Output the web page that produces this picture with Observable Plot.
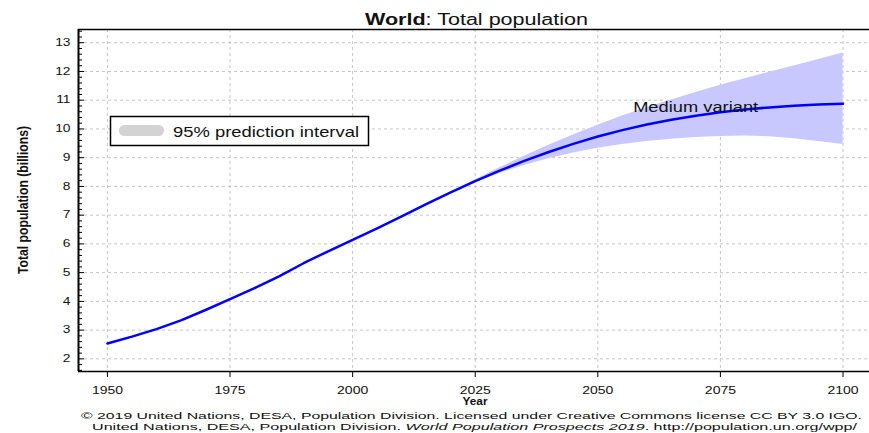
<!DOCTYPE html>
<html><head><meta charset="utf-8">
<script src="https://cdn.jsdelivr.net/npm/d3@7"></script>
<script src="https://cdn.jsdelivr.net/npm/@observablehq/plot@0.6"></script>
<style>
html,body{margin:0;padding:0;background:#fff;}
#chart{position:relative;width:869px;height:433px;overflow:hidden;}
</style></head><body><div id="chart"></div>
<script>
// ---- data (billions) ----
const years = [1950,1955,1960,1965,1970,1975,1980,1985,1990,1995,2000,2005,2010,2015,2020,2025,2030,2035,2040,2045,2050,2055,2060,2065,2070,2075,2080,2085,2090,2095,2100];
const medium = [2.536,2.773,3.035,3.340,3.700,4.079,4.458,4.871,5.327,5.744,6.143,6.542,6.957,7.380,7.795,8.184,8.548,8.888,9.199,9.482,9.735,9.958,10.152,10.318,10.459,10.577,10.674,10.750,10.810,10.852,10.875];
const piYears = [2020,2025,2030,2035,2040,2045,2050,2055,2060,2065,2070,2075,2080,2085,2090,2095,2100];
const piLower = [7.795,8.14,8.45,8.73,8.96,9.16,9.33,9.46,9.56,9.64,9.70,9.74,9.75,9.73,9.66,9.56,9.46];
const piUpper = [7.795,8.23,8.65,9.05,9.43,9.79,10.13,10.45,10.74,11.01,11.27,11.52,11.75,11.97,12.19,12.42,12.64];
const xTicks = [1950,1975,2000,2025,2050,2075,2100];
const yTicks = [2,3,4,5,6,7,8,9,10,11,12,13];
const yMinor = [1.6,1.8,2.2,2.4,2.6,2.8,3.2,3.4,3.6,3.8,4.2,4.4,4.6,4.8,5.2,5.4,5.6,5.8,6.2,6.4,6.6,6.8,7.2,7.4,7.6,7.8,8.2,8.4,8.6,8.8,9.2,9.4,9.6,9.8,10.2,10.4,10.6,10.8,11.2,11.4,11.6,11.8,12.2,12.4,12.6,12.8,13.2,13.4];
const titleBold = "World";
const titleRest = ": Total population";
const yLabel = "Total population (billions)";
const xLabel = "Year";
const legendLabel = "95% prediction interval";
const seriesLabel = "Medium variant";
const caption1 = "© 2019 United Nations, DESA, Population Division. Licensed under Creative Commons license CC BY 3.0 IGO.";
const caption2a = "United Nations, DESA, Population Division. ";
const caption2b = "World Population Prospects 2019";
const caption2c = ". http://population.un.org/wpp/";

const xDomain = [1944.1, 2105.4];
const yDomain = [1.56, 13.46];

const medData = years.map((y, i) => ({year: y, pop: medium[i]}));
const piData = piYears.map((y, i) => ({year: y, lo: piLower[i], hi: piUpper[i]}));

const FONT = "'Liberation Sans', Arial, sans-serif";
const gridStyle = {stroke: "#c6c6c6", strokeOpacity: 1, strokeWidth: 1, strokeDasharray: "3,3"};
const frameW = 869 - 78;

const plot = Plot.plot({
  width: 869, height: 433,
  marginTop: 29, marginBottom: 62, marginLeft: 78, marginRight: 0,
  style: {fontFamily: FONT, fontSize: "10px", color: "#111", background: "#fff", overflow: "visible"},
  x: {domain: xDomain, label: null},
  y: {domain: yDomain, label: null},
  marks: [
    Plot.gridX(xTicks, gridStyle),
    Plot.gridY(yTicks, gridStyle),
    Plot.areaY(piData, {x: "year", y1: "lo", y2: "hi", fill: "#c8c8ff", fillOpacity: 1}),
    Plot.line(medData, {x: "year", y: "pop", stroke: "#0000ff", strokeWidth: 2.5}),
    Plot.text([seriesLabel], {x: () => 2057.2, y: () => 10.73, text: d => d, textAnchor: "start", lineAnchor: "middle", fontSize: 14, fill: "#111"}),
    Plot.ruleY([yDomain[1]], {stroke: "#000", strokeWidth: 1.5}),
    Plot.ruleY([yDomain[0]], {stroke: "#000", strokeWidth: 1.5}),
    Plot.ruleX([xDomain[0]], {stroke: "#000", strokeWidth: 2}),
    Plot.axisX(xTicks, {tickSize: 6, tickPadding: 9, tickFormat: d => String(d), label: null, stroke: "#000", fill: "#111"}),
    Plot.axisY(yMinor, {anchor: "right", tickSize: 3, dx: -frameW, fill: "none", label: null, stroke: "#000"}),
    Plot.axisY(yTicks, {anchor: "right", tickSize: 5, dx: -frameW, fill: "none", label: null, stroke: "#000"}),
    Plot.axisY(yTicks, {tickSize: 0, tickPadding: 8, label: null, fill: "#111"})
  ]
});
document.getElementById("chart").appendChild(plot);

const svg = d3.select(plot);
function stretch(sel, factor) {
  sel.each(function() {
    const w = this.getComputedTextLength();
    d3.select(this).attr("textLength", w * factor).attr("lengthAdjust", "spacingAndGlyphs");
  });
}
stretch(svg.selectAll('g[aria-label="x-axis tick label"] text'), 1.4);
stretch(svg.selectAll('g[aria-label="y-axis tick label"] text'), 1.38);
svg.selectAll("text").filter(function() { return this.textContent === seriesLabel; })
  .attr("textLength", 125).attr("lengthAdjust", "spacingAndGlyphs");

const over = svg.append("g").attr("font-family", FONT).attr("fill", "#111").attr("text-anchor", "start");

// title
const t = over.append("text").attr("x", 365).attr("y", 24.7).attr("font-size", 16)
  .attr("textLength", 223).attr("lengthAdjust", "spacingAndGlyphs");
t.append("tspan").attr("font-weight", "bold").text(titleBold);
t.append("tspan").text(titleRest);

// y label (glyphs widened horizontally like the reference)
over.append("text").attr("transform", "translate(28,200) rotate(-90) scale(1,1.3)")
  .attr("text-anchor", "middle").attr("font-size", 11.5).attr("font-weight", "bold")
  .attr("textLength", 148).attr("lengthAdjust", "spacingAndGlyphs").text(yLabel);

// x label
over.append("text").attr("x", 475).attr("y", 405).attr("text-anchor", "middle")
  .attr("font-size", 10).attr("font-weight", "bold")
  .attr("textLength", 25).attr("lengthAdjust", "spacingAndGlyphs").text(xLabel);

// legend
over.append("rect").attr("x", 110.5).attr("y", 116.5).attr("width", 258).attr("height", 29)
  .attr("fill", "#fff").attr("stroke", "#000").attr("stroke-width", 1.5);
over.append("rect").attr("x", 119).attr("y", 125).attr("width", 45).attr("height", 11)
  .attr("rx", 5.5).attr("fill", "#d3d3d3");
over.append("text").attr("x", 173).attr("y", 136.7).attr("font-size", 15)
  .attr("textLength", 186).attr("lengthAdjust", "spacingAndGlyphs").text(legendLabel);

// captions
over.append("text").attr("x", 81).attr("y", 418.5).attr("font-size", 9.5)
  .attr("textLength", 781).attr("lengthAdjust", "spacingAndGlyphs").text(caption1);
const c2 = over.append("text").attr("x", 92).attr("y", 429.5).attr("font-size", 9.5)
  .attr("textLength", 765).attr("lengthAdjust", "spacingAndGlyphs");
c2.append("tspan").text(caption2a);
c2.append("tspan").attr("font-style", "italic").text(caption2b);
c2.append("tspan").text(caption2c);
</script>
</body></html>
